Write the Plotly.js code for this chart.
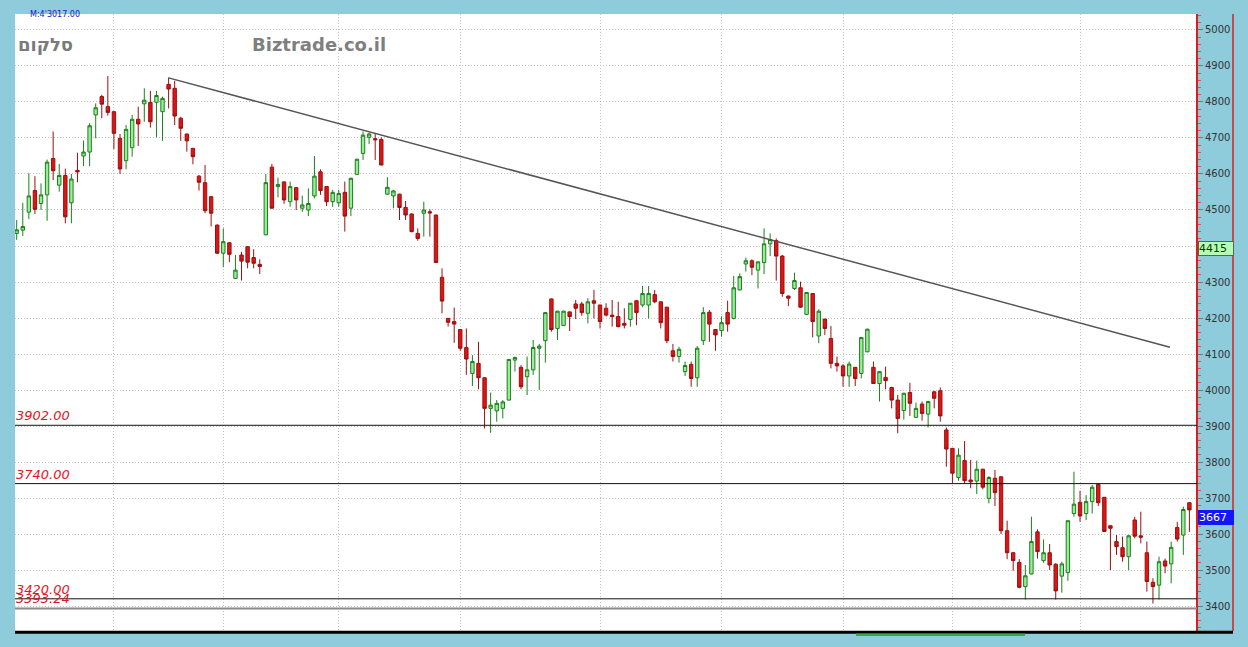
<!DOCTYPE html>
<html>
<head>
<meta charset="utf-8">
<script src="https://cdn.plot.ly/plotly-3.0.1.min.js"></script>
<style>
html,body{margin:0;padding:0;background:#8ecbdb;}
#chart{width:1248px;height:647px;}
</style>
</head>
<body>
<div id="chart"></div>
<script>
// ---- data ----
const openP = [4435,4444,4494,4554,4518,4542,4643,4569,4596,4520,4610,4650,4661,4764,4815,4787,4773,4699,4637,4673,
4752,4795,4799,4799,4773,4849,4838,4755,4711,4671,4594,4576,4537,4458,4380,4409,4310,4375,4398,4368,
4349,4431,4619,4565,4578,4523,4562,4505,4500,4539,4606,4565,4523,4520,4549,4505,4599,4657,4702,4698,
4696,4544,4539,4544,4507,4489,4435,4491,4495,4486,4313,4199,4190,4168,4118,4046,4074,4034,3949,3942,
3949,3972,4083,4063,4037,4056,4116,4137,4253,4171,4179,4217,4239,4239,4213,4248,4236,4227,4208,4204,
4185,4196,4248,4236,4236,4265,4245,4230,4109,4093,4051,4071,4034,4137,4216,4168,4165,4215,4199,4278,
4350,4359,4333,4354,4406,4415,4372,4261,4282,4284,4210,4268,4150,4197,4143,4074,4067,4039,4063,4046,
4106,4063,4018,4035,4007,3972,3943,3993,3924,3961,3933,3995,3998,3889,3838,3757,3804,3750,3747,3780,
3699,3755,3759,3609,3548,3521,3454,3489,3606,3526,3548,3516,3483,3493,3657,3688,3657,3690,3738,3702,
3623,3579,3562,3537,3639,3595,3548,3466,3458,3525,3517,3618,3597,3687];
const highP = [4472,4520,4602,4594,4574,4640,4718,4628,4615,4600,4659,4693,4741,4796,4820,4872,4775,4711,4736,4764,
4787,4838,4831,4831,4815,4868,4859,4759,4712,4673,4597,4625,4538,4460,4449,4410,4375,4384,4400,4391,
4363,4600,4628,4590,4579,4579,4563,4540,4560,4650,4613,4566,4556,4556,4579,4590,4642,4718,4715,4713,
4702,4591,4556,4545,4525,4490,4449,4523,4502,4487,4338,4200,4229,4169,4171,4097,4134,4035,3993,3972,
3972,4086,4093,4069,4093,4139,4128,4216,4254,4220,4220,4218,4250,4245,4255,4278,4237,4241,4250,4245,
4227,4242,4249,4289,4289,4278,4246,4231,4128,4120,4079,4079,4122,4230,4222,4169,4205,4248,4317,4324,
4368,4363,4357,4449,4435,4421,4375,4262,4326,4301,4272,4269,4224,4198,4178,4093,4072,4079,4064,4147,
4170,4079,4052,4065,4009,3986,3992,4020,3965,3968,3970,3998,4007,3896,3839,3838,3858,3806,3804,3781,
3761,3778,3760,3637,3549,3530,3514,3648,3613,3585,3572,3519,3523,3637,3773,3720,3708,3736,3741,3703,
3624,3597,3593,3597,3648,3662,3579,3477,3537,3532,3579,3634,3676,3688];
const lowP = [4417,4428,4475,4489,4500,4470,4583,4551,4463,4463,4577,4622,4622,4699,4755,4762,4669,4600,4613,4648,
4678,4745,4729,4702,4692,4782,4736,4692,4662,4627,4554,4491,4454,4378,4341,4355,4308,4304,4338,4338,
4322,4430,4504,4535,4517,4509,4500,4495,4483,4532,4542,4511,4509,4509,4440,4483,4598,4639,4683,4639,
4624,4542,4505,4472,4472,4438,4415,4426,4426,4353,4213,4176,4131,4109,4042,4011,4002,3893,3881,3912,
3921,3971,4051,4002,3986,4042,4000,4076,4162,4139,4178,4164,4197,4206,4185,4199,4171,4204,4176,4174,
4171,4176,4180,4230,4199,4241,4171,4130,4079,4076,4039,4009,4009,4125,4134,4109,4148,4162,4196,4277,
4329,4319,4282,4322,4372,4304,4259,4233,4278,4229,4209,4146,4130,4153,4060,4051,4009,4009,4011,4032,
4105,4017,3968,4002,3949,3880,3918,3928,3923,3915,3896,3949,3912,3787,3741,3748,3741,3727,3711,3724,
3685,3678,3600,3530,3498,3449,3418,3488,3532,3520,3500,3418,3437,3470,3648,3634,3639,3657,3678,3607,
3500,3542,3523,3500,3588,3574,3440,3407,3418,3491,3463,3579,3542,3606];
const closeP = [4445,4454,4539,4502,4542,4633,4609,4596,4481,4586,4606,4661,4734,4784,4794,4771,4713,4614,4724,4752,
4739,4805,4745,4818,4810,4836,4761,4727,4692,4648,4577,4498,4491,4380,4412,4377,4333,4358,4355,4352,
4343,4576,4505,4571,4528,4565,4528,4514,4518,4594,4554,4523,4549,4546,4483,4588,4641,4708,4711,4695,
4625,4563,4553,4507,4486,4440,4421,4500,4492,4354,4247,4188,4183,4116,4086,4079,4034,3949,3958,3963,
3967,4085,4090,4009,4056,4118,4122,4215,4168,4219,4219,4204,4227,4215,4245,4241,4190,4208,4204,4176,
4180,4241,4215,4268,4268,4245,4187,4137,4093,4113,4068,4032,4116,4215,4183,4153,4187,4183,4284,4315,
4359,4341,4356,4406,4418,4372,4268,4255,4304,4230,4271,4190,4219,4171,4074,4067,4039,4072,4032,4146,
4169,4018,4051,4026,3972,3921,3991,3963,3949,3935,3968,3977,3928,3836,3769,3819,3748,3745,3780,3730,
3757,3715,3609,3548,3526,3452,3484,3579,3551,3548,3514,3442,3517,3637,3683,3650,3690,3730,3687,3607,
3616,3565,3537,3595,3594,3591,3468,3454,3523,3511,3563,3586,3668,3667];

const levels = [3902, 3740, 3420, 3393.24];
const levelLabels = ['3902.00', '3740.00', '3420.00', '3393.24'];
const trendX = [25, 189.8];
const trendY = [4867, 4119];
const yTicks = [3400,3500,3600,3700,3800,3900,4000,4100,4200,4300,4400,4500,4600,4700,4800,4900,5000];
const yTickText = ['3400','3500','3600','3700','3800','3900','4000','4100','4200','4300','','4500','4600','4700','4800','4900','5000'];
const xGrid = [16, 34, 53, 73, 96, 116, 136, 154, 175];
const markerVals = [4415, 3667];
const stockName = 'סלקום';
const siteName = 'Biztrade.co.il';
const topInfo = "M:4'3017.00";

const idx = openP.map((_, i) => i);
const DOM = 0.97044;

const traces = [
  {
    type: 'candlestick',
    x: idx, open: openP, high: highP, low: lowP, close: closeP,
    increasing: {line: {color: '#1c7f1c', width: 1}, fillcolor: '#98ee98'},
    decreasing: {line: {color: '#9a1010', width: 1}, fillcolor: '#dd1515'},
    whiskerwidth: 0,
    hoverinfo: 'skip',
    xaxis: 'x', yaxis: 'y'
  },
  {
    type: 'scatter', mode: 'lines',
    x: trendX, y: trendY,
    line: {color: '#555555', width: 1.5},
    hoverinfo: 'skip', xaxis: 'x', yaxis: 'y'
  }
];

const shapes = [];
levels.forEach((v, i) => {
  shapes.push({
    type: 'line', xref: 'paper', yref: 'y', x0: 0, x1: DOM, y0: v, y1: v,
    line: {color: i === 3 ? '#8a8a8a' : '#111111', width: i === 3 ? 2 : 1}
  });
});
// right frame line and bottom band
shapes.push({type: 'line', xref: 'paper', yref: 'paper', x0: 1, x1: 1, y0: 0, y1: 1, line: {color: '#d62020', width: 1.5}});
shapes.push({type: 'line', xref: 'paper', yref: 'paper', x0: 0, x1: 1, y0: -0.002, y1: -0.002, line: {color: '#000000', width: 3}});
shapes.push({type: 'rect', xref: 'paper', yref: 'paper', x0: (856-15)/1218, x1: (1025-15)/1218, y0: -0.008, y1: -0.004, fillcolor: '#3aa84a', line: {width: 0}});

const annotations = [];
levels.forEach((v, i) => {
  annotations.push({
    xref: 'paper', yref: 'y', x: 0, y: v, xanchor: 'left', yanchor: 'bottom',
    text: levelLabels[i], showarrow: false, borderpad: 0, yshift: 1,
    font: {family: 'DejaVu Sans', size: 13, color: '#e3141e', style: 'italic'}
  });
});
annotations.push({
  xref: 'paper', yref: 'y', x: DOM + 0.0006, y: markerVals[0], xanchor: 'left', yanchor: 'top',
  text: String(markerVals[0]), showarrow: false, bgcolor: '#b4ffb4', bordercolor: '#556655', borderwidth: 1, borderpad: 0,
  width: 34, align: 'left', font: {family: 'DejaVu Sans', size: 11, color: '#0a3a0a'}
});
annotations.push({
  xref: 'paper', yref: 'y', x: DOM + 0.0006, y: markerVals[1], xanchor: 'left', yanchor: 'top',
  text: String(markerVals[1]), showarrow: false, bgcolor: '#1414ff', bordercolor: '#1414ff', borderwidth: 1, borderpad: 0,
  width: 34, align: 'left', font: {family: 'DejaVu Sans', size: 11, color: '#ffffff'}
});
annotations.push({
  xref: 'paper', yref: 'paper', x: 1/1218, y: (631-44)/617, xanchor: 'left', yanchor: 'middle',
  text: '<b>' + stockName + '</b>', showarrow: false,
  font: {family: 'DejaVu Sans', size: 18, color: '#7a7a7a'}
});
annotations.push({
  xref: 'paper', yref: 'paper', x: (250-15)/1218, y: (631-44)/617, xanchor: 'left', yanchor: 'middle',
  text: '<b>' + siteName + '</b>', showarrow: false,
  font: {family: 'DejaVu Sans', size: 18, color: '#7f7f7f'}
});
annotations.push({
  xref: 'paper', yref: 'paper', x: (28-15)/1218, y: (631-14)/617, xanchor: 'left', yanchor: 'middle',
  text: topInfo, showarrow: false,
  font: {family: 'DejaVu Sans', size: 8, color: '#2020d0'}
});

const layout = {
  width: 1248, height: 647,
  margin: {l: 15, r: 15, t: 14, b: 16, pad: 0},
  paper_bgcolor: '#8ecbdb',
  plot_bgcolor: '#ffffff',
  font: {family: 'DejaVu Sans', size: 10, color: '#333333'},
  showlegend: false,
  hovermode: false,
  boxgap: 0.2,
  xaxis: {
    domain: [0, DOM],
    range: [-0.28, 194.25],
    rangeslider: {visible: false},
    showticklabels: false,
    tickvals: xGrid,
    ticks: '',
    showgrid: true, gridcolor: '#c2c2c2', griddash: '1px,2px', gridwidth: 1,
    zeroline: false, showline: false, fixedrange: true
  },
  yaxis: {
    range: [3330.6, 5044.4],
    side: 'right', anchor: 'free', position: DOM,
    tickvals: yTicks, ticktext: yTickText,
    ticks: 'outside', ticklen: 5, tickcolor: '#777777', tickwidth: 1,
    tickfont: {family: 'DejaVu Sans', size: 10, color: '#333333'},
    showgrid: true, gridcolor: '#c2c2c2', griddash: '1px,2px', gridwidth: 1,
    showline: true, linecolor: '#d62020', linewidth: 2,
    minor: {dtick: 20, ticks: 'outside', ticklen: 3, tickcolor: '#e05050', showgrid: false},
    zeroline: false, fixedrange: true
  },
  shapes: shapes,
  annotations: annotations
};

Plotly.newPlot('chart', traces, layout, {displayModeBar: false, staticPlot: true});
</script>
</body>
</html>
